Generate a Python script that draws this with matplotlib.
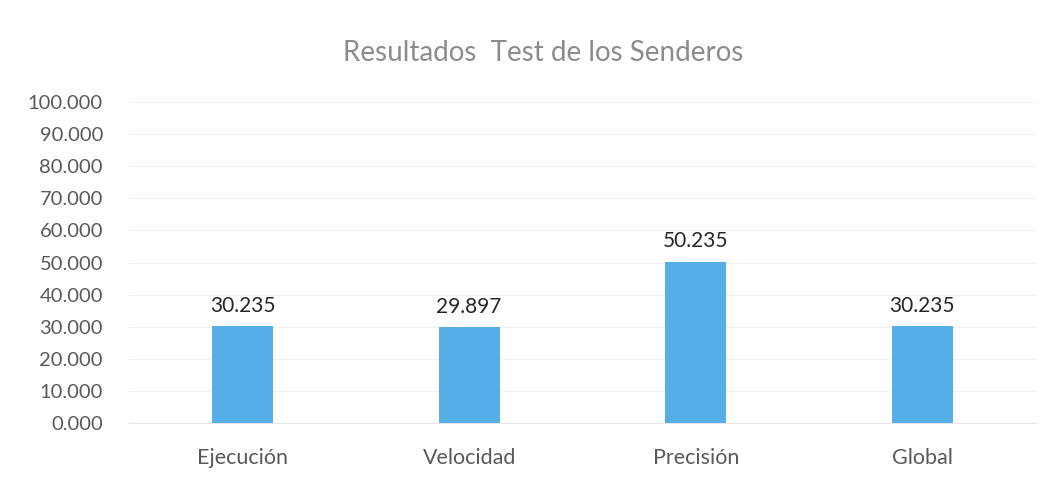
import matplotlib
matplotlib.use("Agg")
from matplotlib import pyplot as plt
import numpy as np

categorias = ["Ejecución", "Velocidad", "Precisión", "Global"]
valores = [30.235, 29.897, 50.235, 30.235]
etiquetas = ["30.235", "29.897", "50.235", "30.235"]
yticks = [0, 10, 20, 30, 40, 50, 60, 70, 80, 90, 100]

plt.rcParams['font.family'] = ['Lato', 'DejaVu Sans']

fig = plt.figure(figsize=(10.6, 4.83), dpi=100)
ax = fig.add_axes([0.122, 0.124, 0.855, 0.665])

ind = np.arange(len(categorias))
bars = ax.bar(ind, valores, width=0.27, color="#56aee8", zorder=3)

# etiquetas encima de cada barra
for b, txt in zip(bars, etiquetas):
    ax.text(b.get_x() + b.get_width() / 2, b.get_height() + 3.2, txt,
            ha="center", va="bottom", fontsize=15, color="#262626")

ax.set_xlim(-0.5, len(categorias) - 0.5)
ax.set_ylim(0, 100)
ax.set_yticks(yticks)
ax.set_yticklabels(["%.3f" % v for v in yticks], fontsize=14.5, color="#595959")
ax.set_xticks(ind)
ax.set_xticklabels(categorias, fontsize=15.5, color="#595959")
ax.tick_params(axis="y", length=0, pad=19)
ax.tick_params(axis="x", length=0, pad=18)
ax.yaxis.grid(True, color="#f0f0f0", linewidth=0.8, zorder=0)
for s in ax.spines.values():
    s.set_visible(False)
ax.spines["bottom"].set_visible(True)
ax.spines["bottom"].set_color("#e6e6e6")

fig.text(0.512, 0.89, "Resultados  Test de los Senderos", ha="center",
         va="center", fontsize=20, color="#8c8c8c")

fig.savefig("out.png", dpi=100)
